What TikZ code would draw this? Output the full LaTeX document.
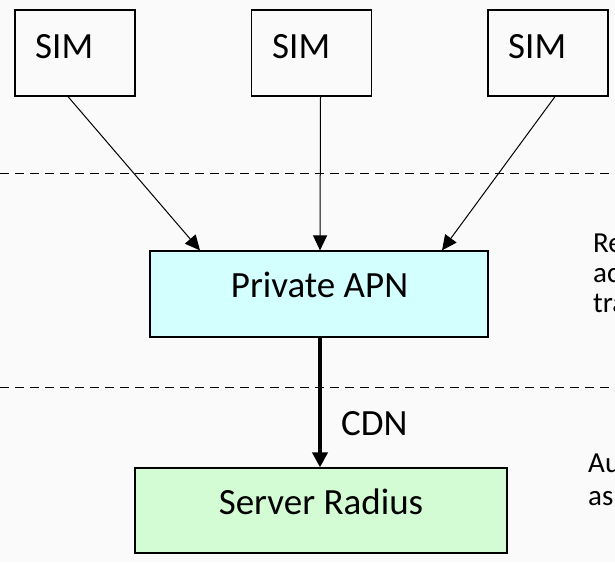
\documentclass[tikz,border=0pt]{standalone}
\usepackage{fontspec}
\setmainfont{Carlito}
\usetikzlibrary{arrows.meta,calc}
\definecolor{bgcol}{RGB}{250,250,250}
\definecolor{apncol}{RGB}{212,255,255}
\definecolor{radcol}{RGB}{212,252,212}
\tikzset{
	simbox/.style={draw,line width=1.2pt,minimum width=120pt,minimum height=86pt,inner sep=0pt},
	bigbox/.style={draw,line width=1.2pt,minimum height=86pt,inner sep=0pt},
	bigtext/.style={font=\fontsize{37}{44}\selectfont,inner sep=0pt},
	sidetext/.style={font=\fontsize{29}{35}\selectfont,inner sep=0pt,anchor=base west},
	sep/.style={line width=1pt,dash pattern=on 9pt off 6pt},
	thin arrow/.style={line width=1pt,-{Triangle[length=15pt,width=14pt]}},
	thick arrow/.style={line width=4.5pt,-{Triangle[length=15pt,width=15pt]}}
}
\begin{document}
\begin{tikzpicture}[x=1pt,y=-1pt]
		\fill[bgcol] (0,0) rectangle (615,562);
		\useasboundingbox (0,0) rectangle (615,562);
		\node[simbox] (sim1) at (75,53) {};
		\node[simbox] (sim2) at (311.5,53) {};
		\node[simbox] (sim3) at (548,53) {};
		\node[bigtext,anchor=base west] (simtxt1) at (35,58) {SIM};
		\node[bigtext,anchor=base west] (simtxt2) at (272,58) {SIM};
		\node[bigtext,anchor=base west] (simtxt3) at (508,58) {SIM};
		\coordinate (sepa1) at (0,173);
		\coordinate (sepa2) at (610,173);
		\coordinate (sepb1) at (0,387);
		\coordinate (sepb2) at (610,387);
		\draw[sep] (sepa1) -- (sepa2);
		\draw[sep] (sepb1) -- (sepb2);
		\node[bigbox,fill=apncol,minimum width=338pt] (apn) at (319,294) {};
		\node[bigtext,anchor=base] (apntxt) at (319.5,297) {Private APN};
		\node[bigbox,fill=radcol,minimum width=372pt,minimum height=85pt] (radius) at (321,510.5) {};
		\node[bigtext,anchor=base] (radtxt) at (321,514) {Server Radius};
		\draw[thin arrow] ($(sim1.south)+(-7,0)$) -- ($(apn.north)+(-119,0)$);
		\draw[thin arrow] ($(sim2.south)+(9,0)$) -- ($(apn.north)+(1,0)$);
		\draw[thin arrow] ($(sim3.south)+(7,0)$) -- ($(apn.north)+(123,0)$);
		\draw[thick arrow] ($(apn.south)+(1,0)$) -- ($(radius.north)+(-1,0)$);
		\node[bigtext,anchor=base west] (cdn) at (341,435) {CDN};
		\node[sidetext] (rea) at (593,252) {Re};
		\node[sidetext] (reb) at (593,282) {ac};
		\node[sidetext] (rec) at (593,312) {tra};
		\node[sidetext] (aua) at (588,472) {Au};
		\node[sidetext] (aub) at (588,505) {as};
\end{tikzpicture}
\end{document}
